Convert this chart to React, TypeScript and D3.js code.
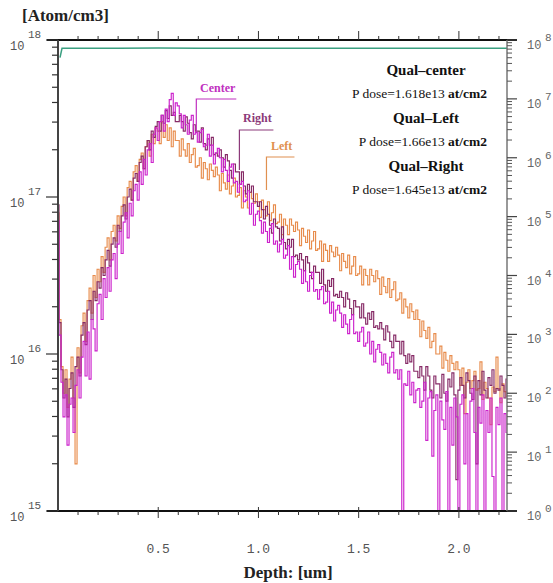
import * as d3 from "d3";

// SIMS depth profiles, log10 of P concentration [atom/cm3], one point every 0.01 um
const depthStep = 0.01;

const centerLog = [
  16.85, 16.12, 15.82, 15.6, 15.74, 15.42, 15.68, 15.72, 15.5, 15.8,
  15.9, 15.72, 15.98, 16.08, 15.86, 16.14, 15.84, 16.22, 16.16, 16.02,
  16.32, 16.38, 16.22, 16.48, 16.36, 16.55, 16.4, 16.6, 16.64, 16.48,
  16.7, 16.78, 16.64, 16.84, 16.9, 16.74, 16.96, 16.88, 17.04, 17.08,
  16.98, 17.16, 17.08, 17.24, 17.14, 17.3, 17.34, 17.22, 17.4, 17.44,
  17.36, 17.48, 17.52, 17.42, 17.56, 17.48, 17.62, 17.66, 17.52, 17.6,
  17.58, 17.53, 17.44, 17.52, 17.46, 17.4, 17.49, 17.52, 17.4, 17.41,
  17.35, 17.41, 17.43, 17.32, 17.33, 17.4, 17.26, 17.33, 17.21, 17.28,
  17.31, 17.25, 17.16, 17.24, 17.17, 17.1, 17.19, 17.21, 17.09, 17.1,
  17.03, 17.08, 17.1, 16.97, 16.98, 17.04, 16.89, 16.96, 16.82, 16.89,
  16.91, 16.85, 16.77, 16.84, 16.78, 16.71, 16.8, 16.83, 16.7, 16.72,
  16.65, 16.7, 16.73, 16.61, 16.63, 16.69, 16.54, 16.62, 16.49, 16.57,
  16.59, 16.54, 16.45, 16.53, 16.46, 16.4, 16.5, 16.52, 16.4, 16.41,
  16.35, 16.41, 16.43, 16.32, 16.33, 16.4, 16.26, 16.33, 16.21, 16.28,
  16.31, 16.26, 16.17, 16.25, 16.19, 16.13, 16.22, 16.25, 16.13, 16.14,
  16.08, 16.14, 16.17, 16.05, 16.07, 16.14, 16.0, 16.08, 15.95, 16.03,
  16.06, 16.01, 15.93, 16.0, 15.94, 15.88, 15.98, 16.01, 15.88, 15.9,
  15.84, 15.9, 15.0, 15.81, 15.8, 15.89, 15.74, 15.82, 15.69, 15.77,
  15.78, 15.66, 15.7, 15.82, 15.45, 15.72, 15.76, 15.35, 15.64, 15.74,
  15.0, 15.7, 15.58, 15.52, 15.76, 15.0, 15.66, 15.42, 15.72, 15.6,
  15.0, 15.68, 15.74, 15.3, 15.62, 15.0, 15.7, 15.78, 15.5, 15.0,
  15.66, 15.56, 15.74, 15.0, 15.64, 15.5, 15.72, 15.22, 15.0, 15.66,
  15.55, 15.72, 15.0, 15.62, 15.5,
];

const rightLog = [
  16.95, 16.2, 15.9, 15.72, 15.84, 15.6, 15.78, 15.88, 15.66, 15.92,
  15.98, 15.86, 16.12, 16.2, 16.06, 16.28, 16.34, 16.22, 16.4, 16.34,
  16.46, 16.42, 16.55, 16.5, 16.6, 16.66, 16.56, 16.7, 16.74, 16.68,
  16.82, 16.78, 16.88, 16.95, 16.86, 17.0, 17.05, 16.98, 17.12, 17.15,
  17.1, 17.22, 17.26, 17.18, 17.32, 17.36, 17.3, 17.42, 17.38, 17.45,
  17.48, 17.42, 17.52, 17.47, 17.55, 17.5, 17.58, 17.52, 17.54, 17.48,
  17.48, 17.52, 17.48, 17.42, 17.51, 17.47, 17.41, 17.37, 17.46, 17.42,
  17.42, 17.35, 17.44, 17.34, 17.3, 17.37, 17.33, 17.38, 17.27, 17.28,
  17.26, 17.3, 17.25, 17.19, 17.27, 17.23, 17.17, 17.12, 17.21, 17.16,
  17.16, 17.08, 17.16, 17.07, 17.02, 17.08, 17.03, 17.07, 16.97, 16.97,
  16.94, 16.97, 16.92, 16.86, 16.94, 16.89, 16.82, 16.77, 16.86, 16.81,
  16.8, 16.72, 16.81, 16.71, 16.67, 16.73, 16.68, 16.73, 16.62, 16.63,
  16.6, 16.64, 16.6, 16.53, 16.62, 16.58, 16.52, 16.48, 16.56, 16.52,
  16.52, 16.45, 16.54, 16.44, 16.4, 16.47, 16.43, 16.48, 16.37, 16.38,
  16.36, 16.4, 16.36, 16.3, 16.39, 16.35, 16.29, 16.25, 16.34, 16.3,
  16.3, 16.23, 16.32, 16.23, 16.19, 16.26, 16.22, 16.27, 16.17, 16.18,
  16.16, 16.2, 16.16, 16.09, 16.18, 16.14, 16.08, 16.04, 16.12, 16.08,
  16.08, 16.0, 16.08, 15.99, 15.94, 16.0, 15.95, 15.99, 15.89, 15.89,
  15.85, 15.92, 15.86, 15.77, 15.92, 15.86, 15.77, 15.72, 15.86, 15.81,
  15.81, 15.72, 15.87, 15.75, 15.7, 15.84, 15.79, 15.88, 15.74, 15.2,
  15.77, 15.85, 15.8, 15.72, 15.88, 15.83, 15.75, 15.71, 15.86, 15.3,
  15.83, 15.74, 15.89, 15.77, 15.72, 15.85, 15.8, 15.9, 15.75, 15.78,
  15.77, 15.86, 15.8, 15.72, 15.84,
];

const leftLog = [
  16.9, 16.22, 15.92, 15.75, 15.9, 15.66, 15.84, 15.98, 15.72, 15.3,
  16.04, 15.88, 16.18, 16.26, 16.08, 16.34, 16.42, 16.26, 16.5, 16.36,
  16.54, 16.46, 16.62, 16.52, 16.68, 16.74, 16.6, 16.78, 16.82, 16.72,
  16.88, 16.8, 16.94, 17.0, 16.88, 17.06, 17.1, 16.98, 17.16, 17.2,
  17.1, 17.24, 17.28, 17.18, 17.32, 17.36, 17.26, 17.4, 17.34, 17.44,
  17.42, 17.34, 17.48, 17.38, 17.46, 17.36, 17.44, 17.32, 17.42, 17.36,
  17.36, 17.26, 17.37, 17.3, 17.26, 17.34, 17.22, 17.27, 17.31, 17.19,
  17.2, 17.25, 17.12, 17.22, 17.18, 17.11, 17.21, 17.17, 17.13, 17.19,
  17.14, 17.04, 17.15, 17.09, 17.05, 17.14, 17.02, 17.07, 17.12, 17.0,
  17.01, 17.06, 16.93, 17.04, 17.0, 16.93, 17.03, 16.99, 16.96, 17.02,
  16.97, 16.87, 16.98, 16.92, 16.88, 16.97, 16.85, 16.9, 16.95, 16.83,
  16.84, 16.89, 16.76, 16.86, 16.82, 16.76, 16.86, 16.82, 16.78, 16.84,
  16.79, 16.69, 16.8, 16.75, 16.71, 16.79, 16.67, 16.72, 16.78, 16.66,
  16.67, 16.72, 16.59, 16.7, 16.66, 16.59, 16.69, 16.65, 16.62, 16.68,
  16.63, 16.53, 16.64, 16.59, 16.55, 16.63, 16.51, 16.56, 16.62, 16.5,
  16.51, 16.56, 16.44, 16.54, 16.5, 16.44, 16.54, 16.5, 16.46, 16.53,
  16.48, 16.38, 16.49, 16.43, 16.39, 16.48, 16.36, 16.41, 16.46, 16.34,
  16.35, 16.39, 16.26, 16.35, 16.3, 16.23, 16.32, 16.27, 16.22, 16.28,
  16.22, 16.11, 16.21, 16.15, 16.1, 16.17, 16.04, 16.08, 16.13, 16.0,
  16.0, 16.05, 15.91, 16.01, 15.96, 15.89, 15.99, 15.94, 15.9, 15.95,
  15.9, 15.8, 15.91, 15.62, 15.82, 15.9, 15.78, 15.83, 15.89, 15.77,
  15.78, 15.95, 15.71, 15.82, 15.78, 15.72, 15.55, 15.79, 15.76, 15.98,
  15.78, 15.69, 15.81, 15.76, 15.73,
];

// matrix signal on the right axis (log10 counts)
const greenDepth = [0.01, 0.02, 0.3, 0.5, 0.7, 1.0, 1.3, 1.6, 1.9, 2.24];
const greenLog = [7.7, 7.86, 7.86, 7.865, 7.86, 7.86, 7.86, 7.86, 7.86, 7.86];

const xTickLabels = [0.5, 1.0, 1.5, 2.0];
const leftDecades = [15, 16, 17, 18];
const rightDecades = [0, 1, 2, 3, 4, 5, 6, 7, 8];

const legendRows = [
  { name: "Qual\u2013center", dose: "1.618e13" },
  { name: "Qual\u2013Left", dose: "1.66e13" },
  { name: "Qual\u2013Right", dose: "1.645e13" },
];

const serif = "'Liberation Serif', 'Times New Roman', serif";
const mono = "'Liberation Mono', 'DejaVu Sans Mono', monospace";

export default function App() {
  const x = d3.scaleLinear().domain([0, 2.24]).range([58, 507]);
  const yL = d3.scaleLog().domain([1e15, 1e18]).range([511, 40]);
  const yR = d3.scaleLog().domain([1, 1e8]).range([511, 40]);

  const line = d3
    .line<number>()
    .x((_, i) => x(i * depthStep))
    .y((d) => yL(Math.pow(10, d)))
    .curve(d3.curveStep);

  const greenLine = d3
    .line<number>()
    .x((_, i) => x(greenDepth[i]))
    .y((d) => yR(Math.pow(10, d)));

  const xMinor = d3.range(1, 23).map((i) => i / 10);

  const series = [
    { data: leftLog, color: "#e88c4c" },
    { data: rightLog, color: "#862a66" },
    { data: centerLog, color: "#cc22cc" },
  ];

  // curve name tags with their leader lines
  const labels = [
    { text: "Center", color: "#c030c0", d: 0.69, tx: 200, ty: 92, lw: 40, y0: 99, y1: 132 },
    { text: "Right", color: "#8c3a7a", d: 0.905, tx: 243, ty: 122, lw: 34, y0: 130, y1: 170 },
    { text: "Left", color: "#e09050", d: 1.04, tx: 271, ty: 150, lw: 28, y0: 157, y1: 190 },
  ];

  return (
    <svg
      width={553}
      height={583}
      style={{ position: "absolute", left: 0, top: 0, background: "#fff" }}
    >
      <text x={22} y={21} fontFamily={serif} fontWeight="bold" fontSize={17} fill="#222">
        [Atom/cm3]
      </text>

      <path d={greenLine(greenLog) || ""} fill="none" stroke="#3a9f80" strokeWidth={1.5} />
      {series.map((s, i) => (
        <path key={i} d={line(s.data) || ""} fill="none" stroke={s.color} strokeWidth={1.15} />
      ))}

      {/* top and bottom axes */}
      <line x1={47} x2={517} y1={40} y2={40} stroke="#111" strokeWidth={2.2} />
      <line x1={47} x2={517} y1={511} y2={511} stroke="#111" strokeWidth={2.2} />
      {xMinor.map((t) => {
        const major = Math.round(t * 10) % 5 === 0;
        return (
          <g key={t} stroke="#333" strokeWidth={1}>
            <line x1={x(t)} x2={x(t)} y1={40} y2={major ? 31 : 36} />
            <line x1={x(t)} x2={x(t)} y1={major ? 507 : 511} y2={major ? 518 : 515} />
          </g>
        );
      })}
      {xTickLabels.map((t) => (
        <text key={t} x={x(t)} y={553} textAnchor="middle" fontFamily={mono} fontSize={13} fill="#555">
          {t.toFixed(1)}
        </text>
      ))}
      <text x={288} y={578} textAnchor="middle" fontFamily={serif} fontWeight="bold" fontSize={17} fill="#222">
        Depth: [um]
      </text>

      {/* left axis */}
      <line x1={58} x2={58} y1={40} y2={511} stroke="#444" strokeWidth={2} />
      {leftDecades.map((n) => (
        <g key={n}>
          <line x1={46} x2={58} y1={yL(Math.pow(10, n))} y2={yL(Math.pow(10, n))} stroke="#333" strokeWidth={1.2} />
          {n < 18 &&
            d3.range(2, 10).map((k) => (
              <line
                key={k}
                x1={52}
                x2={58}
                y1={yL(k * Math.pow(10, n))}
                y2={yL(k * Math.pow(10, n))}
                stroke="#333"
                strokeWidth={1.2}
              />
            ))}
          <text x={10} y={yL(Math.pow(10, n)) + 10} fontFamily={mono} fontSize={12} fill="#555">
            10
          </text>
          <text x={28} y={yL(Math.pow(10, n)) - 2} fontFamily={mono} fontSize={11} fill="#555">
            {n}
          </text>
        </g>
      ))}

      {/* right axis */}
      <line x1={507} x2={507} y1={40} y2={511} stroke="#777" strokeWidth={1.5} />
      {rightDecades.map((n) => (
        <g key={n}>
          <line x1={507} x2={517} y1={yR(Math.pow(10, n))} y2={yR(Math.pow(10, n))} stroke="#444" strokeWidth={1.2} />
          {n < 8 &&
            d3.range(2, 10).map((k) => (
              <line
                key={k}
                x1={507}
                x2={512}
                y1={yR(k * Math.pow(10, n))}
                y2={yR(k * Math.pow(10, n))}
                stroke="#555"
                strokeWidth={1}
              />
            ))}
          <text x={527} y={yR(Math.pow(10, n)) + 9} fontFamily={mono} fontSize={12} fill="#666">
            10
          </text>
          <text x={545} y={yR(Math.pow(10, n)) + 1} fontFamily={mono} fontSize={11} fill="#666">
            {n}
          </text>
        </g>
      ))}

      {labels.map((l) => (
        <g key={l.text}>
          <text x={l.tx} y={l.ty} fontFamily={serif} fontWeight="bold" fontSize={12} fill={l.color}>
            {l.text}
          </text>
          <polyline
            points={`${x(l.d)},${l.y1} ${x(l.d)},${l.y0} ${x(l.d) + l.lw},${l.y0}`}
            fill="none"
            stroke={l.color}
            strokeWidth={1.2}
          />
        </g>
      ))}

      {/* legend block */}
      {legendRows.map((r, i) => (
        <g key={r.name}>
          <text x={426} y={75 + i * 48} textAnchor="middle" fontFamily={serif} fontWeight="bold" fontSize={15} fill="#111">
            {r.name}
          </text>
          <text x={487} y={98 + i * 48} textAnchor="end" fontFamily={serif} fontSize={13.5} fill="#111">
            P dose={r.dose} <tspan fontWeight="bold">at/cm2</tspan>
          </text>
        </g>
      ))}
    </svg>
  );
}
